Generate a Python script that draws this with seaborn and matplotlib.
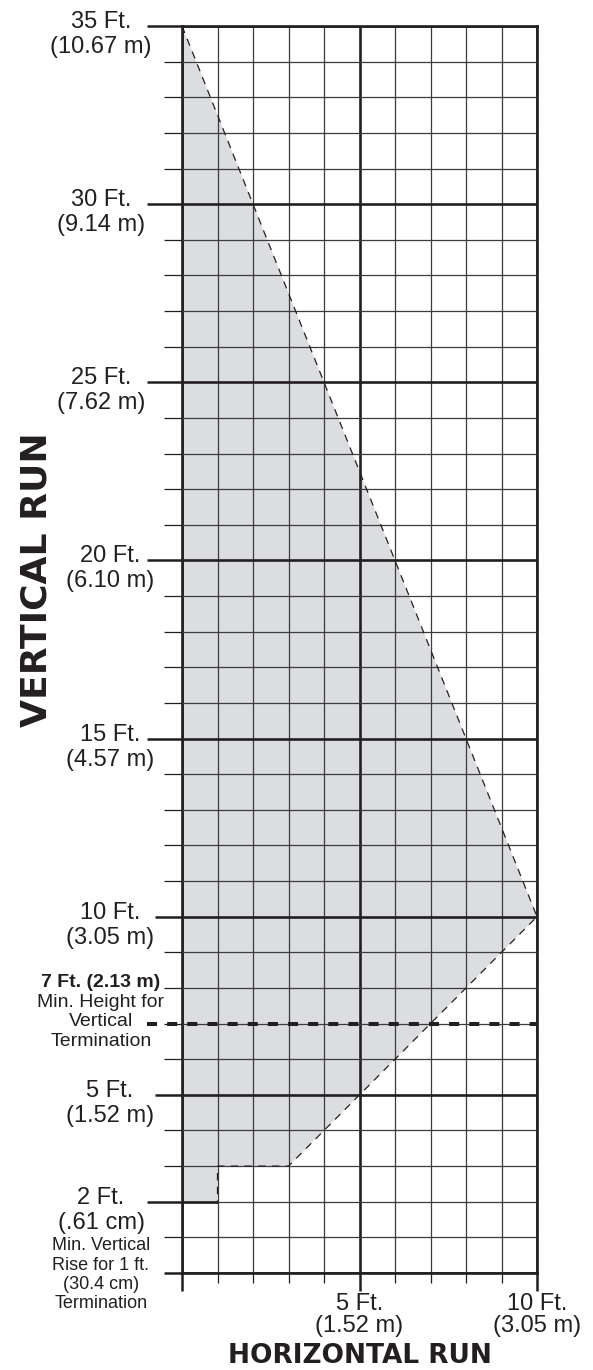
import numpy as np
import pandas as pd
import seaborn as sns
import matplotlib.pyplot as plt

# data (feet)
run_ft = [0, 10, 3, 1, 1]          # dashed boundary of allowed zone
rise_ft = [35, 10, 3, 3, 2]
zone_x = [0, 10, 3, 1, 1, 0]     # shaded area
zone_y = [35, 10, 3, 3, 2, 2]
min_vertical_ft = 7
min_rise_ft = 2

ytick_ft = [35, 30, 25, 20, 15, 10, 5, 2]
ytick_ft_txt = ["35 Ft.", "30 Ft.", "25 Ft.", "20 Ft.", "15 Ft.", "10 Ft.", "5 Ft.", "2 Ft."]
ytick_m_txt = ["(10.67 m)", "(9.14 m)", "(7.62 m)", "(6.10 m)", "(4.57 m)", "(3.05 m)", "(1.52 m)", "(.61 cm)"]
xtick_ft = [5, 10]
xtick_ft_txt = ["5 Ft.", "10 Ft."]
xtick_m_txt = ["(1.52 m)", "(3.05 m)"]

note_7ft = ["Min. Height for", "Vertical", "Termination"]
note_2ft = ["Min. Vertical", "Rise for 1 ft.", "(30.4 cm)", "Termination"]

#%%
sns.set_theme(style='white')
plt.rcParams['font.family'] = ['Liberation Sans', 'DejaVu Sans']
ink = '#231f20'

fig = plt.figure(figsize=(5.93, 13.7), dpi=100)
ax = fig.add_axes([182/593, 97/1370, 355/593, 1247/1370])
ax.set_xlim(0, 10)
ax.set_ylim(0, 35)

ax.fill(zone_x, zone_y, color='#dcdde0', lw=0, zorder=1)

df = pd.DataFrame({'run': run_ft, 'rise': rise_ft})
sns.lineplot(data=df, x='run', y='rise', sort=False, estimator=None, color=ink,
             lw=0.9, ax=ax, zorder=3)
ax.lines[-1].set_linestyle((0, (6, 5)))
ax.plot([0, 1], [min_rise_ft, min_rise_ft], color=ink, lw=1.9, zorder=3, solid_capstyle='butt')
ax.set_xlabel('')
ax.set_ylabel('')

# 7 ft min height line
ax.plot([-1.0, 10], [min_vertical_ft, min_vertical_ft], color=ink, lw=2.9,
        ls=(0, (2.5, 2.5)), clip_on=False, zorder=4, solid_capstyle='butt')

# grid
ax.set_xticks([0, 5, 10])
ax.set_xticks([i for i in range(11) if i % 5], minor=True)
ax.set_yticks(list(range(0, 36, 5)))
ax.set_yticks([i for i in range(36) if i % 5], minor=True)
ax.set_xticklabels([])
ax.set_yticklabels([])
ax.set_axisbelow(False)
ax.grid(which='major', color=ink, lw=1.9)
ax.grid(which='minor', color='#3c3c3c', lw=0.9)
ax.tick_params(which='major', direction='out', color=ink, width=1.8, length=13,
               left=True, bottom=True)
ax.tick_params(which='minor', direction='out', color=ink, width=0.9, length=7.2,
               left=True, bottom=True)
ax.tick_params(axis='y', which='major', length=25)
ax.tick_params(axis='y', which='minor', length=13)
for s in ax.spines.values():
    s.set_color(ink)
    s.set_linewidth(1.9)

# per-tick lengths on the y axis
for t, v in zip(ax.yaxis.get_major_ticks(), range(0, 36, 5)):
    if v == 0:
        t.tick1line.set_markersize(13)
    elif v in (5, 10):
        t.tick1line.set_markersize(19.4)
minor_locs = [i for i in range(36) if i % 5]
for t, v in zip(ax.yaxis.get_minor_ticks(), minor_locs):
    if v == min_rise_ft:
        t.tick1line.set_markersize(25)
        t.tick1line.set_markeredgewidth(1.8)

# y labels
for v, a, b in zip(ytick_ft, ytick_ft_txt, ytick_m_txt):
    dx = -81 if v >= 25 or v == 2 else -72
    ax.annotate(a, (0, v), xytext=(dx, -2), textcoords='offset pixels',
                ha='center', va='baseline', fontsize=17, color=ink)
    ax.annotate(b, (0, v), xytext=(dx, -27), textcoords='offset pixels',
                ha='center', va='baseline', fontsize=17, color=ink)

# x labels
for v, a, b in zip(xtick_ft, xtick_ft_txt, xtick_m_txt):
    ax.annotate(a, (v, 0), xytext=(0, -37), textcoords='offset pixels',
                ha='center', va='baseline', fontsize=17, color=ink)
    ax.annotate(b, (v, 0), xytext=(0, -59), textcoords='offset pixels',
                ha='center', va='baseline', fontsize=17, color=ink)

# notes
ax.annotate("7 Ft. (2.13 m)", (0, min_vertical_ft), xytext=(-81, 37), textcoords='offset pixels',
            ha='center', va='baseline', fontsize=14, fontweight='bold', color=ink)
for i, line in enumerate(note_7ft):
    ax.annotate(line, (0, min_vertical_ft), xytext=(-81, 17 - 19.5*i), textcoords='offset pixels',
                ha='center', va='baseline', fontsize=14, color=ink)
for i, line in enumerate(note_2ft):
    ax.annotate(line, (0, 0), xytext=(-81, 23 - 19.5*i), textcoords='offset pixels',
                ha='center', va='baseline', fontsize=13, color=ink)

fig.text(37/593, 1 - 580/1370, "VERTICAL RUN", rotation=90, ha='center', va='center',
         fontsize=26, fontweight='bold', color=ink, family='DejaVu Sans')
fig.text(360/593, 1/1370, "HORIZONTAL RUN", ha='center', va='bottom',
         fontsize=19, fontweight='bold', color=ink, family='DejaVu Sans')

fig.savefig('out.png', dpi=100)
